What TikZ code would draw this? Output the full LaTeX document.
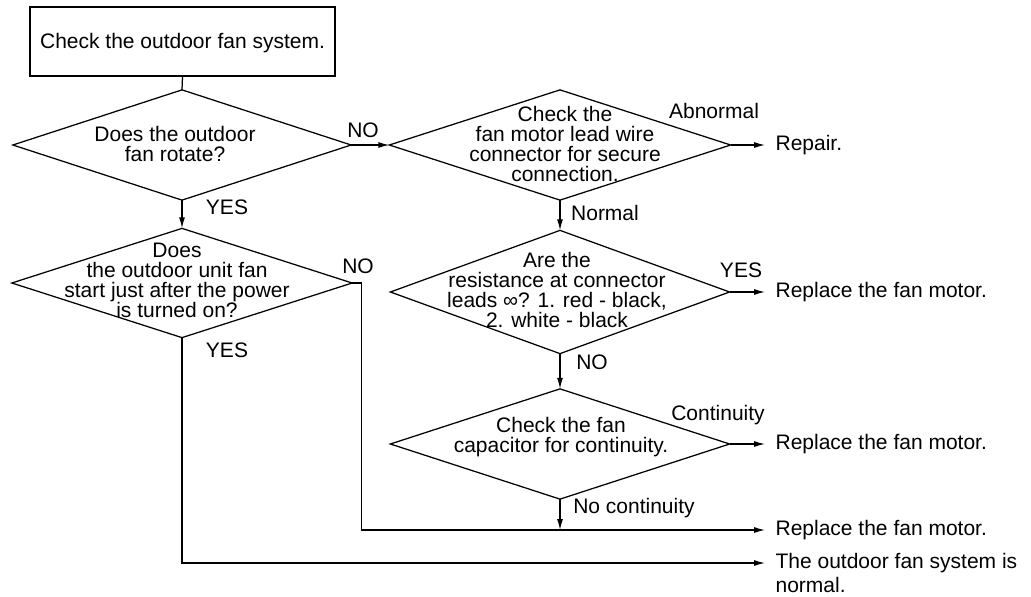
\documentclass[tikz,border=0pt]{standalone}
\usepackage{fontspec}
\setmainfont{Liberation Sans}
\usetikzlibrary{arrows.meta}
\begin{document}
\begin{tikzpicture}[x=1pt,y=-1pt,line width=1.25pt,
  every node/.style={font=\fontsize{21}{20}\selectfont,inner sep=0pt},
  dia/.style={rectangle,inner sep=0pt},
  dtxt/.style={align=center},
  lbl/.style={},
  outn/.style={anchor=west},
  arr/.style={-{Latex[length=11pt,width=6pt]}}]
\useasboundingbox (0,0) rectangle (1031,597);
% start box
\node[draw,minimum width=305,minimum height=69,text depth=2pt] (start) at (182.5,41.5) {Check the outdoor fan system.};
% diamonds (exact size boxes, outline drawn below)
\node[dia,minimum width=337,minimum height=109] (d1) at (182,145) {};
\node[dia,minimum width=339,minimum height=108] (d2) at (182,283) {};
\node[dia,minimum width=340,minimum height=109] (d3) at (560,145) {};
\node[dia,minimum width=338,minimum height=122] (d4) at (560,292) {};
\node[dia,minimum width=338,minimum height=109] (d5) at (560,444) {};
\foreach \d in {d1,d2,d3,d4,d5}
  \draw (\d.north) -- (\d.east) -- (\d.south) -- (\d.west) -- cycle;
% diamond texts
\node[dtxt] (t1) at (175,144) {Does the outdoor\\fan rotate?};
\node[dtxt] (t2) at (177,280) {Does\\the outdoor unit fan\\start just after the power\\is turned on?};
\node[dtxt] (t3) at (565,144) {Check the\\fan motor lead wire\\connector for secure\\connection.};
\node[dtxt] (t4) at (557,290) {Are the\\resistance at connector\\leads ∞? 1. red - black,\\2. white - black};
\node[dtxt] (t5) at (561,437) {Check the fan\\capacitor for continuity.};
% outputs
\node[outn] (o1) at (775,145) {Repair.};
\node[outn] (o2) at (775,292) {Replace the fan motor.};
\node[outn] (o3) at (775,444) {Replace the fan motor.};
\node[outn] (o4) at (775,530) {Replace the fan motor.};
\node[outn] (o5) at (775,563) {The outdoor fan system is};
\node[outn] (o5b) at (775,585) {normal.};
% connectors
\draw (start.south) -- (d1.north);
\draw[arr] (d1.south) -- (d2.north);
\draw[arr] (d1.east) -- (d3.west);
\draw[arr] (d3.east) -- ([xshift=-10pt]d3.east -| o1.west);
\draw[arr] (d3.south) -- (d4.north);
\draw[arr] (d4.east) -- ([xshift=-10pt]d4.east -| o2.west);
\draw[arr] (d4.south) -- (d5.north);
\draw[arr] (d5.east) -- ([xshift=-10pt]d5.east -| o3.west);
\coordinate (j) at (d5.south |- o4.west);
\draw[arr] (d5.south) -- (j);
\draw[arr] (d2.east) -- ++(9,0) |- ([xshift=-10pt]o4.west);
\draw[arr] (d2.south) |- ([xshift=-10pt]o5.west);
% labels
\node[lbl] (l1) at (227,207) {YES};
\node[lbl] (l2) at (363,130) {NO};
\node[lbl] (l3) at (714,111) {Abnormal};
\node[lbl] (l4) at (605,213) {Normal};
\node[lbl] (l5) at (741,270) {YES};
\node[lbl] (l6) at (592,362) {NO};
\node[lbl] (l7) at (718,415) {Continuity};
\node[lbl] (l8) at (634,508) {No continuity};
\node[lbl] (l9) at (358,266) {NO};
\node[lbl] (l10) at (227,350) {YES};
\end{tikzpicture}
\end{document}
